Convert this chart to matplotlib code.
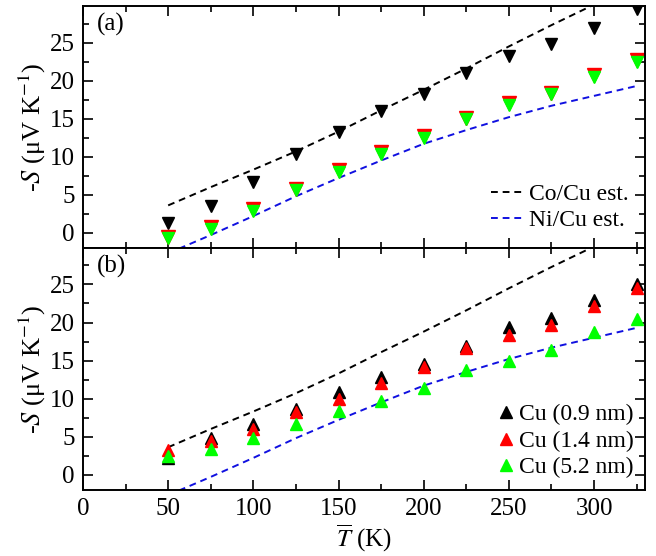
"""Thermopower of Co/Cu and Ni/Cu multilayers vs mean temperature."""

import matplotlib.pyplot as plt
from matplotlib.ticker import MultipleLocator

plt.rcParams['font.family'] = ['Liberation Serif', 'DejaVu Serif']
plt.rcParams['mathtext.fontset'] = 'stix'
plt.rcParams['font.size'] = 18

# Mean temperature (K)
T = [50, 75, 100, 125, 150, 175, 200, 225, 250, 275, 300, 325]

# Panel (a) measured -S (uV/K)
a_black = [1.3, 3.5, 6.7, 10.3, 13.2, 16.0, 18.3, 21.0, 23.2, 24.8, 26.9, 29.4]
a_red = [-0.5, 0.7, 3.1, 5.8, 8.2, 10.6, 12.7, 15.1, 17.0, 18.4, 20.7, 22.7]
a_green = [-0.7, 0.5, 2.9, 5.6, 8.0, 10.4, 12.5, 14.9, 16.8, 18.2, 20.5, 22.5]

# Panel (b) measured -S (uV/K) for three Cu thicknesses
b_09 = [2.2, 4.8, 6.7, 8.6, 10.9, 12.9, 14.5, 16.9, 19.4, 20.6, 23.0, 25.1]
b_14 = [3.3, 4.4, 6.0, 8.2, 9.9, 12.1, 14.2, 16.7, 18.3, 19.7, 22.2, 24.6]
b_52 = [2.4, 3.4, 4.8, 6.6, 8.3, 9.7, 11.4, 13.7, 15.0, 16.4, 18.8, 20.4]

# Estimates
co_est = [3.6, 6.0, 8.3, 10.7, 13.3, 16.1, 18.8, 21.6, 24.5, 27.3, 30.0, 32.7]
ni_est = [-2.7, -0.3, 2.2, 4.8, 7.2, 9.5, 11.7, 13.5, 15.2, 16.7, 18.0, 19.3]

fig = plt.figure(figsize=(6.56, 5.56), dpi=100)
ax_a = fig.add_axes([0.1265, 0.554, 0.857, 0.435])
ax_b = fig.add_axes([0.1265, 0.119, 0.857, 0.435])

dash = (0, (3.5, 2.5))
for ax in (ax_a, ax_b):
    ax.plot(T, co_est, color='black', ls=dash, lw=1.4, label='Co/Cu est.')
    ax.plot(T, ni_est, color='#1010e0', ls=dash, lw=1.4, label='Ni/Cu est.')
    ax.set_xlim(0, 330)
    ax.set_ylim(-2, 29.8)
    ax.xaxis.set_major_locator(MultipleLocator(50))
    ax.xaxis.set_minor_locator(MultipleLocator(25))
    ax.yaxis.set_major_locator(MultipleLocator(5))
    ax.yaxis.set_minor_locator(MultipleLocator(2.5))
    ax.tick_params(which='both', direction='in', top=True, right=True,
                   width=1.2, pad=6)
    ax.tick_params(which='major', length=7)
    ax.tick_params(which='minor', length=4)
    for sp in ax.spines.values():
        sp.set_linewidth(1.4)
    ax.set_ylabel(r'-$S$ (μV K$^{-1}$)', labelpad=1, fontsize=19)

# Panel (a)
ax_a.plot(T, a_black, 'v', color='black', ms=9)
ax_a.plot(T, a_red, 'v', color='red', ms=10)
ax_a.plot(T, a_green, 'v', color='#00ff00', ms=8)
ax_a.tick_params(labelbottom=False)
ax_a.text(0.025, 0.97, '(a)', transform=ax_a.transAxes, va='top')
ax_a.legend(loc='lower right', frameon=False, handlelength=1.3,
            handletextpad=0.3, borderaxespad=0.3, labelspacing=0.2,
            fontsize=17)

# Panel (b)
ax_b.plot(T, b_09, '^', color='black', ms=9, label='Cu (0.9 nm)')
ax_b.plot(T, b_14, '^', color='red', ms=9, label='Cu (1.4 nm)')
ax_b.plot(T, b_52, '^', color='#00ff00', ms=9, label='Cu (5.2 nm)')
ax_b.text(0.025, 0.97, '(b)', transform=ax_b.transAxes, va='top')
handles, labels = ax_b.get_legend_handles_labels()
ax_b.legend(handles[2:], labels[2:], loc='lower right', frameon=False,
            handlelength=0.7, handletextpad=0.2, borderaxespad=0.1,
            labelspacing=0.2, fontsize=17)
ax_b.set_xlabel(r'$\overline{T}$ (K)', labelpad=2)

fig.savefig('out.png', dpi=100)
